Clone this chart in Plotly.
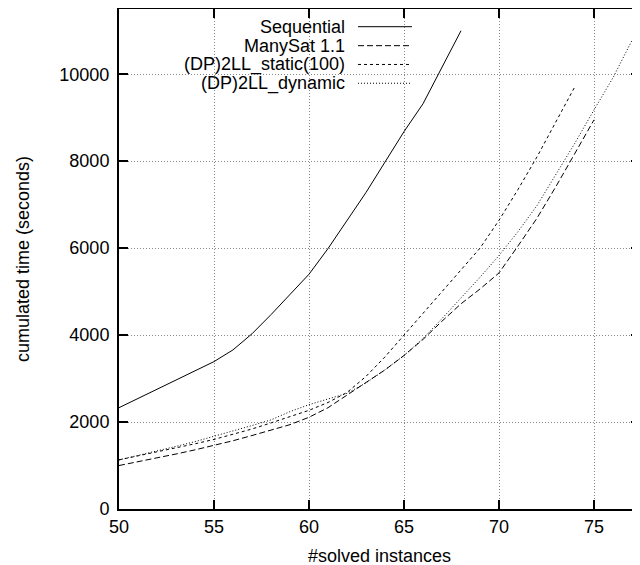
import plotly.graph_objects as go

# ---- data ----
seq_x = list(range(50, 69))
seq_y = [2330, 2540, 2750, 2960, 3170, 3390, 3660, 4030, 4470, 4930,
         5400, 5990, 6620, 7280, 7980, 8680, 9320, 10160, 11000]

many_x = list(range(50, 76))
many_y = [1000, 1085, 1175, 1265, 1360, 1460, 1570, 1690, 1810, 1940,
          2110, 2330, 2620, 2900, 3200, 3530, 3900, 4320, 4720, 5060,
          5430, 6050, 6690, 7420, 8200, 8950]

static_x = list(range(50, 75))
static_y = [1130, 1220, 1310, 1400, 1500, 1600, 1720, 1840, 1980, 2120,
            2270, 2450, 2680, 3050, 3500, 4000, 4500, 5000, 5480, 6000,
            6640, 7350, 8100, 8900, 9720]

dyn_x = list(range(50, 78))
dyn_y = [1130, 1230, 1330, 1440, 1550, 1670, 1790, 1920, 2050, 2240,
         2400, 2530, 2660, 2900, 3200, 3530, 3920, 4380, 4850, 5330,
         5830, 6380, 6980, 7700, 8420, 9180, 9920, 10780]

series_names = ["Sequential", "ManySat 1.1", "(DP)2LL_static(100)", "(DP)2LL_dynamic"]
x_ticks = [50, 55, 60, 65, 70, 75]
y_ticks = [0, 2000, 4000, 6000, 8000, 10000]
y_tick_labels = ["0", "2000", "4000", "6000", "8000", "10000"]

FONT = "Liberation Sans, Arial, Helvetica, sans-serif"
dashes = ["solid", "6px,3px", "3px,3px", "1px,2px"]

fig = go.Figure()
for name, xs, ys, d in zip(series_names,
                           [seq_x, many_x, static_x, dyn_x],
                           [seq_y, many_y, static_y, dyn_y], dashes):
    fig.add_trace(go.Scatter(x=xs, y=ys, mode="lines", name=name,
                             line=dict(color="black", width=1, dash=d),
                             showlegend=False))

# plot-area geometry on screen (page has an 8px body margin)
PL, PR, PT, PB = 119.0, 640.0, 9.0, 509.3


def px(sx):
    return (sx - PL) / (PR - PL)


def py(sy):
    return (PB - sy) / (PB - PT)


# manual gnuplot-style key (text right-aligned, sample on the right)
row_y = [26.7, 45.7, 64.5, 83.3]
for name, d, ry in zip(series_names, dashes, row_y):
    fig.add_annotation(xref="paper", yref="paper", x=px(347), y=py(ry),
                       text=name, showarrow=False, xanchor="right", yanchor="middle",
                       font=dict(family=FONT, size=18, color="black"))
    fig.add_shape(type="line", xref="paper", yref="paper",
                  x0=px(358), x1=px(412), y0=py(ry), y1=py(ry),
                  line=dict(color="black", width=1, dash=d))

axis_common = dict(
    showline=True, linecolor="black", linewidth=2, mirror="ticks",
    ticks="inside", ticklen=9, tickwidth=1.5, tickcolor="black",
    showgrid=True, gridcolor="#888888", gridwidth=1, griddash="1px,2px",
    zeroline=False, tickfont=dict(family=FONT, size=18, color="black"),
)

fig.update_xaxes(range=[50, 77.42], tickvals=x_ticks,
                 title=dict(text="#solved instances", font=dict(family=FONT, size=18, color="black"),
                            standoff=14),
                 **axis_common)
fig.update_yaxes(range=[0, 11500], tickvals=y_ticks, ticktext=y_tick_labels,
                 ticklabelstandoff=4,
                 title=dict(text="cumulated time (seconds)", font=dict(family=FONT, size=18, color="black"),
                            standoff=25),
                 **axis_common)

fig.update_layout(width=640, height=565,
                  margin=dict(l=111, r=8, t=1, b=63.7, autoexpand=False),
                  paper_bgcolor="white", plot_bgcolor="white")

fig.write_html("out.html")
